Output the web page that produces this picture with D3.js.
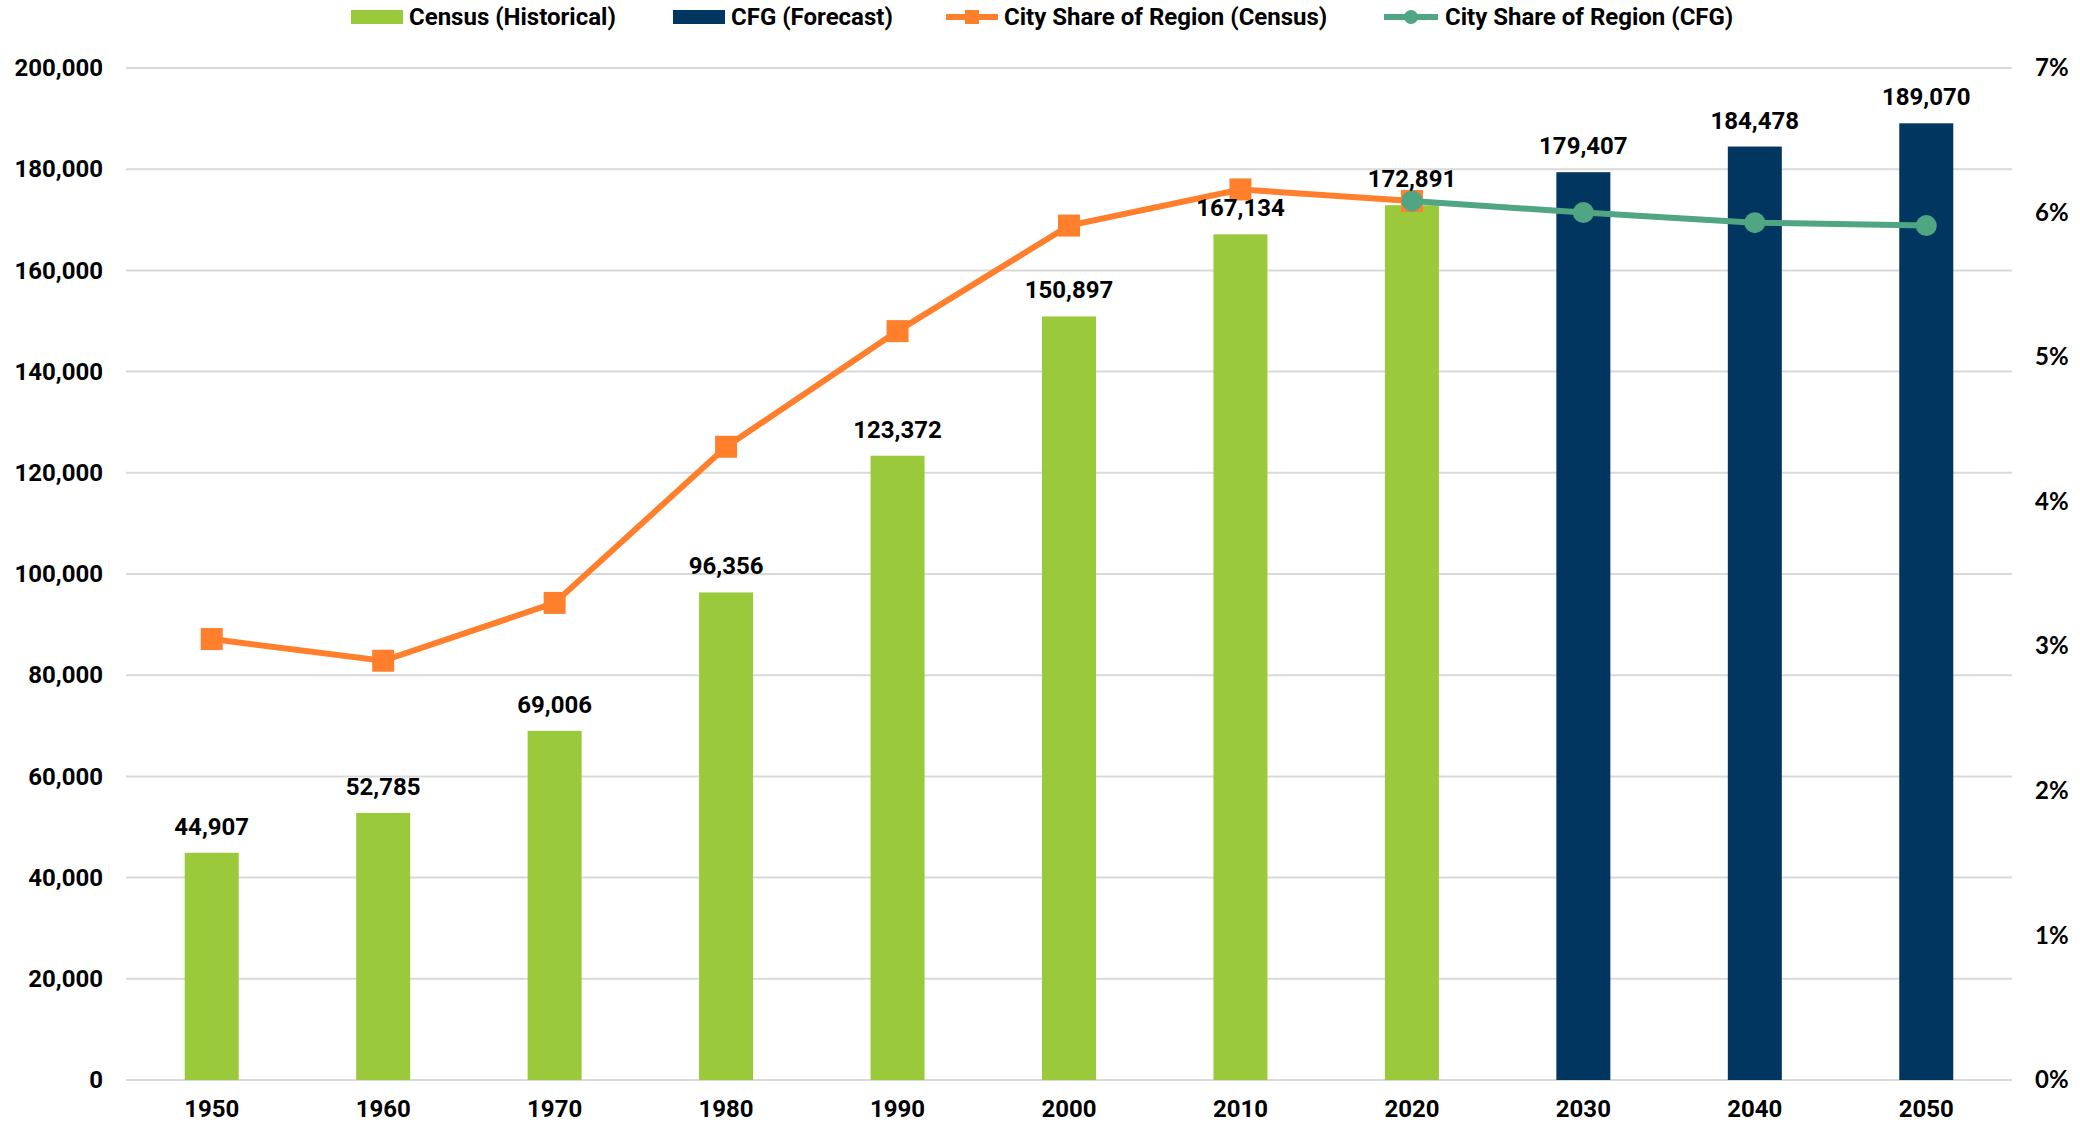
<!DOCTYPE html>
<html><head><meta charset="utf-8">
<script src="https://cdn.jsdelivr.net/npm/d3@7"></script>
<style>body{margin:0;background:#fff}svg{display:block}</style>
</head><body>
<svg id="c" width="2080" height="1123"></svg>
<script>
const years = ["1950","1960","1970","1980","1990","2000","2010","2020","2030","2040","2050"];
const censusPop = [44907,52785,69006,96356,123372,150897,167134,172891,null,null,null];
const cfgPop = [null,null,null,null,null,null,null,null,179407,184478,189070];
const shareCensus = [3.05,2.90,3.30,4.38,5.18,5.91,6.16,6.08,null,null,null];
const shareCFG = [null,null,null,null,null,null,null,6.08,6.00,5.93,5.91];
const leftTicks = [0,20000,40000,60000,80000,100000,120000,140000,160000,180000,200000];
const rightTicks = [0,1,2,3,4,5,6,7];
const legendItems = ["Census (Historical)","CFG (Forecast)","City Share of Region (Census)","City Share of Region (CFG)"];

const C = {green:"#9ACA3C", navy:"#003660", orange:"#FF7F2C", teal:"#50A582", grid:"#d9d9d9"};
const FONT = "Roboto, 'Noto Sans', sans-serif";
const L = 126, R = 2012, T = 68, B = 1080;

const svg = d3.select("#c");
const x = d3.scaleBand().domain(years).range([L,R]).paddingInner(0.685).paddingOuter(0.3425);
const cx = d => x(d) + x.bandwidth()/2;
const y = d3.scaleLinear().domain([0,200000]).range([B,T]);
const y2 = d3.scaleLinear().domain([0,7]).range([B,T]);

// grid
svg.append("g").selectAll("line").data(leftTicks).join("line")
  .attr("x1",L).attr("x2",R).attr("y1",d=>y(d)).attr("y2",d=>y(d))
  .attr("stroke",C.grid).attr("stroke-width",2);

// left axis
const la = svg.append("g").attr("transform",`translate(${L},0)`)
  .call(d3.axisLeft(y).tickValues(leftTicks).tickFormat(d3.format(",")).tickSize(0).tickPadding(23));
la.select(".domain").remove();
la.selectAll("text").attr("font-family",FONT).attr("font-weight","bold").attr("font-size",24).attr("fill","#000");

// right axis
const ra = svg.append("g").attr("transform",`translate(${R},0)`)
  .call(d3.axisRight(y2).tickValues(rightTicks).tickFormat(d=>d+"%").tickSize(0).tickPadding(23));
ra.select(".domain").remove();
ra.selectAll("text").attr("font-family","Lato, 'Open Sans', sans-serif").attr("font-weight","bold").attr("font-size",24).attr("fill","#000");

// bottom axis
const ba = svg.append("g").attr("transform",`translate(0,${B})`)
  .call(d3.axisBottom(x).tickSize(0).tickPadding(20));
ba.select(".domain").remove();
ba.selectAll("text").attr("font-family",FONT).attr("font-weight","bold").attr("font-size",24).attr("fill","#000");

// bars
const barData = years.map((yr,i)=>({yr, v: censusPop[i]!=null?censusPop[i]:cfgPop[i], c: censusPop[i]!=null?C.green:C.navy}));
svg.append("g").selectAll("rect").data(barData).join("rect")
  .attr("x",d=>x(d.yr)).attr("width",x.bandwidth())
  .attr("y",d=>y(d.v)).attr("height",d=>B-y(d.v)).attr("fill",d=>d.c);

// lines
const lc = years.map((yr,i)=>({yr,v:shareCensus[i]})).filter(d=>d.v!=null);
const lf = years.map((yr,i)=>({yr,v:shareCFG[i]})).filter(d=>d.v!=null);
const line = d3.line().x(d=>cx(d.yr)).y(d=>y2(d.v));
svg.append("path").datum(lc).attr("d",line).attr("fill","none").attr("stroke",C.orange).attr("stroke-width",6);
svg.append("g").selectAll("rect").data(lc).join("rect")
  .attr("x",d=>cx(d.yr)-11).attr("y",d=>y2(d.v)-11).attr("width",22).attr("height",22).attr("fill",C.orange);
svg.append("path").datum(lf).attr("d",line).attr("fill","none").attr("stroke",C.teal).attr("stroke-width",6);
svg.append("g").selectAll("circle").data(lf).join("circle")
  .attr("cx",d=>cx(d.yr)).attr("cy",d=>y2(d.v)).attr("r",10.5).attr("fill",C.teal);

// bar labels
svg.append("g").selectAll("text").data(barData).join("text")
  .attr("x",d=>cx(d.yr)).attr("y",d=>y(d.v)-18).attr("text-anchor","middle")
  .attr("font-family",FONT).attr("font-weight","bold").attr("font-size",24).attr("fill","#000")
  .text(d=>d3.format(",")(d.v));

// legend
const lg = svg.append("g").attr("font-family",FONT).attr("font-weight","bold").attr("font-size",24);
const legX = [351,673,946,1384];
const ly = 17;
lg.append("rect").attr("x",legX[0]).attr("y",ly-7).attr("width",52).attr("height",14).attr("fill",C.green);
lg.append("rect").attr("x",legX[1]).attr("y",ly-7).attr("width",52).attr("height",14).attr("fill",C.navy);
lg.append("line").attr("x1",legX[2]).attr("x2",legX[2]+52).attr("y1",ly).attr("y2",ly).attr("stroke",C.orange).attr("stroke-width",6);
lg.append("rect").attr("x",legX[2]+19).attr("y",ly-7).attr("width",14).attr("height",14).attr("fill",C.orange);
lg.append("line").attr("x1",legX[3]).attr("x2",legX[3]+54).attr("y1",ly).attr("y2",ly).attr("stroke",C.teal).attr("stroke-width",6);
lg.append("circle").attr("cx",legX[3]+27).attr("cy",ly).attr("r",7).attr("fill",C.teal);
lg.selectAll("text.l").data(legendItems).join("text").attr("class","l")
  .attr("x",(d,i)=>legX[i]+(i==3?61:58)).attr("y",ly).attr("dy","0.35em").attr("fill","#000").text(d=>d);
</script>
</body></html>
